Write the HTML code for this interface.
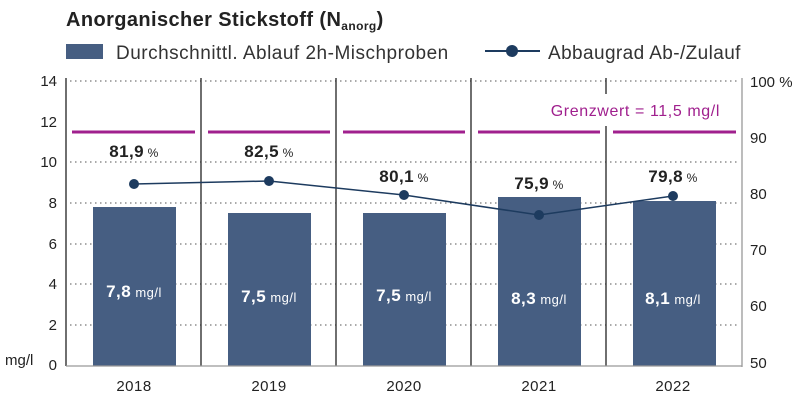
<!DOCTYPE html>
<html><head><meta charset="utf-8"><style>
body{margin:0;background:#fff;}
svg text{font-family:"Liberation Sans",sans-serif;}
</style></head><body>
<svg width="800" height="402" viewBox="0 0 800 402" xmlns="http://www.w3.org/2000/svg">
<text x="66" y="26" font-size="20" font-weight="bold" fill="#222" letter-spacing="0.4">Anorganischer Stickstoff (N<tspan font-size="12" dy="4">anorg</tspan><tspan dy="-4">)</tspan></text>
<rect x="66" y="44" width="37" height="15" fill="#465e82"/>
<text x="116" y="59" font-size="19" fill="#333" letter-spacing="0.5">Durchschnittl. Ablauf 2h-Mischproben</text>
<line x1="485" y1="51" x2="540" y2="51" stroke="#1d3b5f" stroke-width="2"/>
<circle cx="512" cy="51" r="6" fill="#1d3b5f"/>
<text x="548" y="59" font-size="19" fill="#333" letter-spacing="0.4">Abbaugrad Ab-/Zulauf</text>
<g stroke="#555" stroke-width="1" stroke-dasharray="1.5,3.5">
<line x1="70" y1="81" x2="740" y2="81"/><line x1="70" y1="162" x2="740" y2="162"/><line x1="70" y1="203" x2="740" y2="203"/><line x1="70" y1="244" x2="740" y2="244"/><line x1="70" y1="284" x2="740" y2="284"/><line x1="70" y1="325" x2="740" y2="325"/>
</g>
<g fill="#465e82">
<rect x="93" y="207" width="83" height="159"/><rect x="228" y="213" width="83" height="153"/><rect x="363" y="213" width="83" height="153"/><rect x="498" y="197" width="83" height="169"/><rect x="633" y="201" width="83" height="165"/>
</g>
<g stroke="#a0208e" stroke-width="3">
<line x1="72" y1="132" x2="195" y2="132"/><line x1="208" y1="132" x2="330" y2="132"/><line x1="343" y1="132" x2="465" y2="132"/><line x1="478" y1="132" x2="600" y2="132"/><line x1="613" y1="132" x2="736" y2="132"/>
</g>
<text x="720" y="116" font-size="16" fill="#a0208e" text-anchor="end" letter-spacing="0.6">Grenzwert = 11,5 mg/l</text>
<g stroke="#222" stroke-width="1.3">
<line x1="66" y1="78" x2="66" y2="366"/><line x1="201" y1="78" x2="201" y2="366"/><line x1="336" y1="78" x2="336" y2="366"/><line x1="471" y1="78" x2="471" y2="366"/><line x1="606" y1="78" x2="606" y2="94"/><line x1="606" y1="126" x2="606" y2="366"/>
</g>
<line x1="742" y1="78" x2="742" y2="367" stroke="#999" stroke-width="1.3"/>
<line x1="66" y1="366" x2="742" y2="366" stroke="#999" stroke-width="1.3"/>
<polyline points="134,184 269,181 404,195 539,215 673,196" fill="none" stroke="#1d3b5f" stroke-width="1.5"/>
<g fill="#1d3b5f"><circle cx="134" cy="184" r="5"/><circle cx="269" cy="181" r="5"/><circle cx="404" cy="195" r="5"/><circle cx="539" cy="215" r="5"/><circle cx="673" cy="196" r="5"/></g>
<g font-size="17" font-weight="bold" fill="#222" text-anchor="middle" letter-spacing="0.4">
<text x="134" y="157">81,9<tspan font-size="12" font-weight="normal"> %</tspan></text>
<text x="269" y="157">82,5<tspan font-size="12" font-weight="normal"> %</tspan></text>
<text x="404" y="182">80,1<tspan font-size="12" font-weight="normal"> %</tspan></text>
<text x="539" y="189">75,9<tspan font-size="12" font-weight="normal"> %</tspan></text>
<text x="673" y="182">79,8<tspan font-size="12" font-weight="normal"> %</tspan></text>
</g>
<g font-size="17" font-weight="bold" fill="#fff" text-anchor="middle" letter-spacing="0.5">
<text x="134" y="297">7,8<tspan font-size="13" font-weight="normal"> mg/l</tspan></text>
<text x="269" y="302">7,5<tspan font-size="13" font-weight="normal"> mg/l</tspan></text>
<text x="404" y="301">7,5<tspan font-size="13" font-weight="normal"> mg/l</tspan></text>
<text x="539" y="304">8,3<tspan font-size="13" font-weight="normal"> mg/l</tspan></text>
<text x="673" y="304">8,1<tspan font-size="13" font-weight="normal"> mg/l</tspan></text>
</g>
<g font-size="15" fill="#222" text-anchor="end">
<text x="57" y="86">14</text><text x="57" y="127">12</text><text x="57" y="167">10</text><text x="57" y="208">8</text><text x="57" y="249">6</text><text x="57" y="289">4</text><text x="57" y="330">2</text><text x="57" y="370">0</text>
</g>
<text x="5" y="365" font-size="15" fill="#222">mg/l</text>
<g font-size="15" fill="#222">
<text x="750" y="87">100 %</text><text x="750" y="143">90</text><text x="750" y="199">80</text><text x="750" y="255">70</text><text x="750" y="311">60</text><text x="750" y="368">50</text>
</g>
<g font-size="15" fill="#222" text-anchor="middle" letter-spacing="0.5">
<text x="134" y="391">2018</text><text x="269" y="391">2019</text><text x="404" y="391">2020</text><text x="539" y="391">2021</text><text x="673" y="391">2022</text>
</g>
</svg>
</body></html>
